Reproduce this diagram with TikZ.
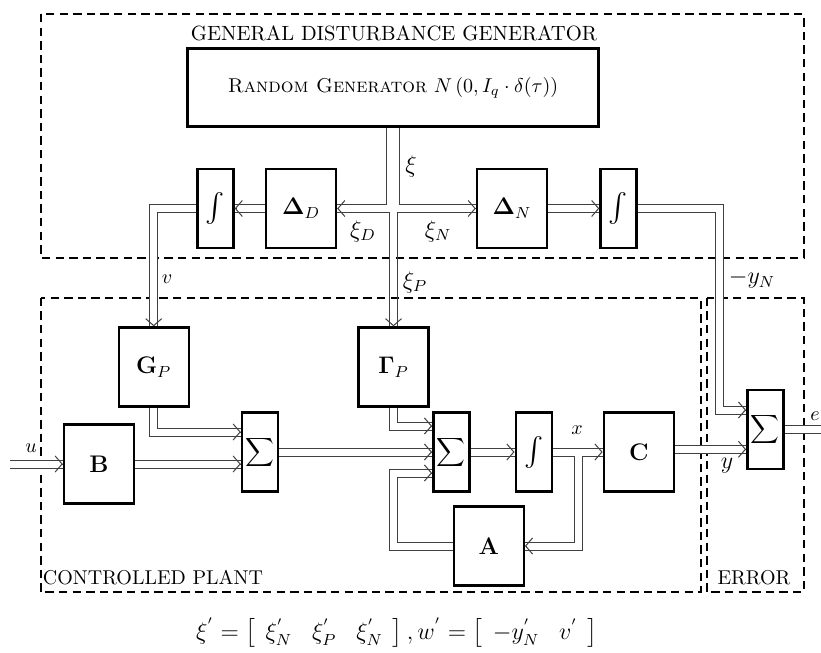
\documentclass[tikz,border=0pt]{standalone}
\usepackage{amsmath}
\usetikzlibrary{calc,arrows.meta}
\newcommand{\tipin}[2]{\draw[tip] ($(#1)+(#2)$) -- (#1);}
\begin{document}
\begin{tikzpicture}[x=0.5pt,y=-0.5pt,
  blk/.style={draw, line width=1.2pt, inner sep=0pt, minimum height=39.5pt, font=\large},
  wide/.style={blk, minimum width=35pt},
  narrow/.style={blk, minimum width=18pt},
  frame/.style={line width=1pt, dash pattern=on 4.2pt off 2.6pt},
  dl/.style={draw=black!75, line width=0.5pt, double=white, double distance=3.5pt},
  sl/.style={draw=black!75, line width=0.5pt},
  tip/.style={sl, -{Straight Barb[length=3.5pt,width=8pt]}},
  lbl/.style={inner sep=0pt},
  blbl/.style={inner sep=0pt, font=\large},
]
\useasboundingbox (0,0) rectangle (821,653);
% frames
\draw[frame] (40.8,14) rectangle (803.5,257.7);
\draw[frame] (40.8,297.7) rectangle (700.5,592.3);
\draw[frame] (706.8,297.7) rectangle (803.5,592.3);
% blocks
\node[blk, minimum width=205.5pt, minimum height=39pt, font=\normalsize] (RG) at (393,87.5) {\textsc{Random Generator} $N\left(0, I_q\cdot\delta(\tau)\right)$};
\node[narrow] (IL) at (215.5,208.5) {\Large$\int$};
\node[wide] (DD) at (301,208.5) {$\mathbf{\Delta}_D$};
\node[wide] (DN) at (512,208.5) {$\mathbf{\Delta}_N$};
\node[narrow] (IR) at (618.5,208.5) {\Large$\int$};
\node[wide] (GP) at (153.7,367) {$\mathbf{G}_P$};
\node[wide] (GamP) at (393.5,367) {$\mathbf{\Gamma}_P$};
\node[wide] (B) at (99,464) {$\mathbf{B}$};
\node[narrow, font=\normalsize] (S1) at (260,452) {$\displaystyle\sum$};
\node[narrow, font=\normalsize] (S2) at (451.3,452) {$\displaystyle\sum$};
\node[narrow] (IP) at (533.7,452) {\Large$\int$};
\node[wide] (C) at (638.8,452) {$\mathbf{C}$};
\node[wide] (A) at (488.7,546) {$\mathbf{A}$};
\node[narrow, font=\normalsize] (Se) at (765.3,429.3) {$\displaystyle\sum$};
% coordinates
\coordinate (Seu) at ($(Se.west)+(0,-19.3)$);
\coordinate (Sel) at ($(Se.west)+(0,20)$);
\coordinate (S1u) at ($(S1.west)+(0,-20)$);
\coordinate (S1l) at (S1.west |- B.east);
\coordinate (S2u) at ($(S2.west)+(0,-26)$);
\coordinate (S2l) at ($(S2.west)+(0,21)$);
\coordinate (uin) at (10,464);
\coordinate (eout) at (821,429.3);
\coordinate (brk) at ($(A.east)+(53.5,0)$);
% junction xi
\draw[sl] ($(RG.south)+(-6.5,0)$) |- ($(DD.east)+(0,-4)$);
\draw[sl] ($(RG.south)+(6.5,0)$) |- ($(DN.west)+(0,-4)$);
\draw[sl] ($(DD.east)+(0,4)$) -| ($(GamP.north)+(-4,0)$);
\draw[sl] ($(DN.west)+(0,4)$) -| ($(GamP.north)+(4,0)$);
\tipin{DD.east}{1,0}
\tipin{DN.west}{-1,0}
\tipin{GamP.north}{0,-1}
% disturbance paths
\draw[dl] (DD.west) -- (IL.east); \tipin{IL.east}{1,0}
\draw[dl] (IL.west) -| (GP.north); \tipin{GP.north}{0,-1}
\draw[dl] (DN.east) -- (IR.west); \tipin{IR.west}{-1,0}
\draw[dl] (IR.east) -| ($(Seu)+(-26.7,0)$) -- (Seu); \tipin{Seu}{-1,0}
% plant
\draw[dl] (uin) -- (B.west); \tipin{B.west}{-1,0}
\draw[dl] (B.east) -- (S1l); \tipin{S1l}{-1,0}
\draw[dl] (GP.south) |- (S1u); \tipin{S1u}{-1,0}
\draw[dl] (S1.east) -- (S2.west); \tipin{S2.west}{-1,0}
\draw[dl] (GamP.south) |- (S2u); \tipin{S2u}{-1,0}
\draw[dl] (S2.east) -- (IP.west); \tipin{IP.west}{-1,0}
\draw[dl] (A.west) -| (GamP.south |- S2l) -- (S2l); \tipin{S2l}{-1,0}
% junction x
\draw[sl] ($(IP.east)+(0,-4)$) -- ($(C.west)+(0,-4)$);
\draw[sl] ($(IP.east)+(0,4)$) -| ($(brk)+(-4,-4)$) -- ($(A.east)+(0,-4)$);
\draw[sl] ($(C.west)+(0,4)$) -| ($(brk)+(4,4)$) -- ($(A.east)+(0,4)$);
\tipin{C.west}{-1,0}
\tipin{A.east}{1,0}
% error
\draw[dl] (C.east |- Sel) -- (Sel); \tipin{Sel}{-1,0}
\draw[dl] (Se.east) -- (eout);
% labels
\node[lbl, font=\fontsize{10.3}{12}\selectfont] (tGDG) at (394,33) {GENERAL DISTURBANCE GENERATOR};
\node[blbl] (txi) at (411,166) {$\xi$};
\node[blbl] (txiD) at (363,231) {$\xi_D$};
\node[blbl] (txiN) at (438,231) {$\xi_N$};
\node[lbl] (tv) at (167,279) {$v$};
\node[blbl] (txiP) at (415,282) {$\xi_P$};
\node[blbl] (tyN) at (752,279) {$-y_N$};
\node[lbl] (tu) at (31,448) {$u$};
\node[lbl] (tx) at (577,430) {$x$};
\node[blbl] (ty) at (727,466) {$y$};
\node[lbl] (te) at (815,416) {$e$};
\node[lbl] (tCP) at (153,578) {CONTROLLED PLANT};
\node[lbl] (tER) at (754,578) {ERROR};
\node[lbl] (teq) at (397,633) {\large $\xi^{'} = \left[\begin{array}{ccc}\xi_N^{'} & \xi_P^{'} & \xi_N^{'}\end{array}\right], w^{'} = \left[\begin{array}{cc}-y_N^{'} & v^{'}\end{array}\right]$};
\end{tikzpicture}
\end{document}
